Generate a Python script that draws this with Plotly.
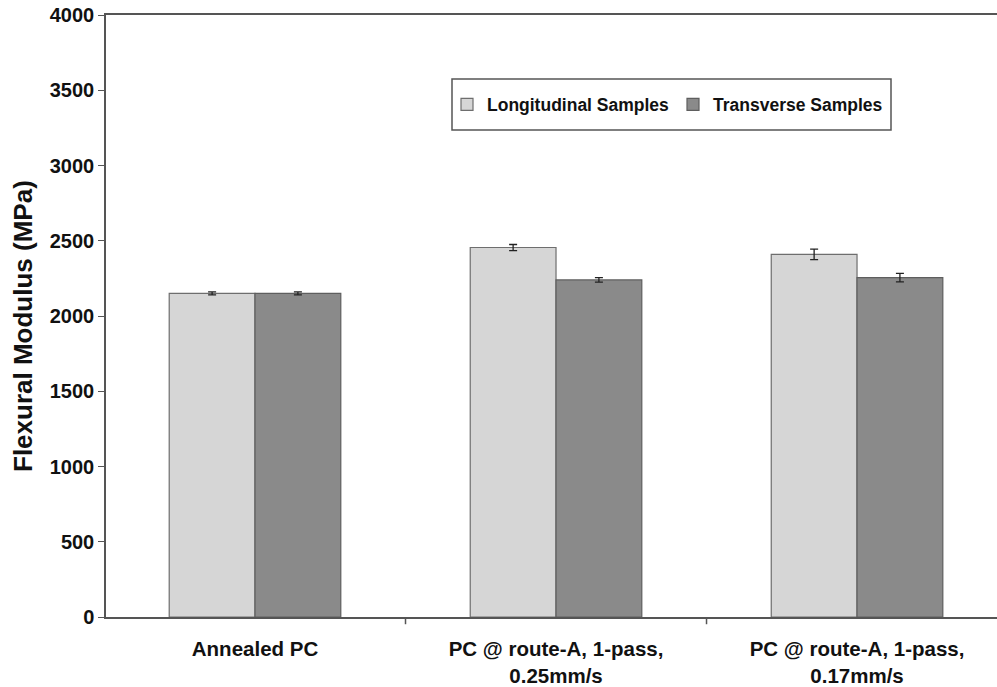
import plotly.graph_objects as go

categories = ["Annealed PC", "PC @ route-A, 1-pass,<br>0.25mm/s", "PC @ route-A, 1-pass,<br>0.17mm/s"]
longitudinal = [2150, 2455, 2410]
longitudinal_err = [10, 20, 35]
transverse = [2150, 2240, 2255]
transverse_err = [10, 15, 28]
y_ticks = [0, 500, 1000, 1500, 2000, 2500, 3000, 3500, 4000]
y_title = "Flexural Modulus (MPa)"

FONT = "Liberation Sans, Arial, sans-serif"

fig = go.Figure()
fig.add_trace(go.Bar(
    name="Longitudinal Samples", x=categories, y=longitudinal,
    marker=dict(color="#d6d6d6", line=dict(color="#6e6e6e", width=1.2)),
    error_y=dict(type="data", array=longitudinal_err, color="#222222", thickness=1.3, width=4),
))
fig.add_trace(go.Bar(
    name="Transverse Samples", x=categories, y=transverse,
    marker=dict(color="#8a8a8a", line=dict(color="#5e5e5e", width=1.2)),
    error_y=dict(type="data", array=transverse_err, color="#222222", thickness=1.3, width=4),
))

fig.update_layout(
    width=997, height=687,
    margin=dict(l=106, r=0, t=15, b=70),
    paper_bgcolor="white", plot_bgcolor="white",
    barmode="group", bargap=0.43, bargroupgap=0,
    font=dict(family=FONT, color="#111111"),
    legend=dict(
        orientation="h", x=(447 - 106) / 891, y=(617 - 104.5) / 602, xanchor="left", yanchor="middle",
        borderwidth=0, bgcolor="rgba(0,0,0,0)",
        font=dict(size=17.5, weight="bold", family=FONT),
        entrywidth=181, entrywidthmode="pixels",
    ),
    showlegend=True,
)
fig.update_xaxes(
    range=[-0.495, 2.465], showline=True, linecolor="#555555", linewidth=1.5,
    mirror=True, ticks="", tickfont=dict(size=20.5, weight="bold", family=FONT),
    ticklabelstandoff=13,
    showgrid=False, zeroline=False,
)
fig.update_yaxes(
    range=[0, 4000], tickvals=y_ticks, showline=True, linecolor="#555555", linewidth=1.5,
    ticks="outside", ticklen=6, tickcolor="#555555",
    tickfont=dict(size=20, weight="bold", family=FONT),
    showgrid=False, zeroline=False,
)
fig.add_annotation(
    text=y_title, textangle=-90, showarrow=False,
    xref="paper", yref="paper", x=(23 - 106) / 891, y=(617 - 326) / 602,
    xanchor="center", yanchor="middle",
    font=dict(size=26, weight="bold", family=FONT, color="#111111"),
)
# legend frame
fig.add_shape(type="rect", xref="paper", yref="paper",
              x0=(452 - 106) / 891, x1=(891 - 106) / 891,
              y0=(617 - 130) / 602, y1=(617 - 79) / 602,
              line=dict(color="#555555", width=1.5), fillcolor="white", layer="below")
# tick marks between categories on x axis
for xv in [0.5, 1.5]:
    fig.add_shape(type="line", xref="x", yref="paper", x0=xv, x1=xv, y0=0, y1=-0.012,
                  line=dict(color="#555555", width=1.5))

fig.write_html("out.html", config={"displayModeBar": False},
               post_script="document.body.style.margin='0';document.body.style.overflow='hidden';")
